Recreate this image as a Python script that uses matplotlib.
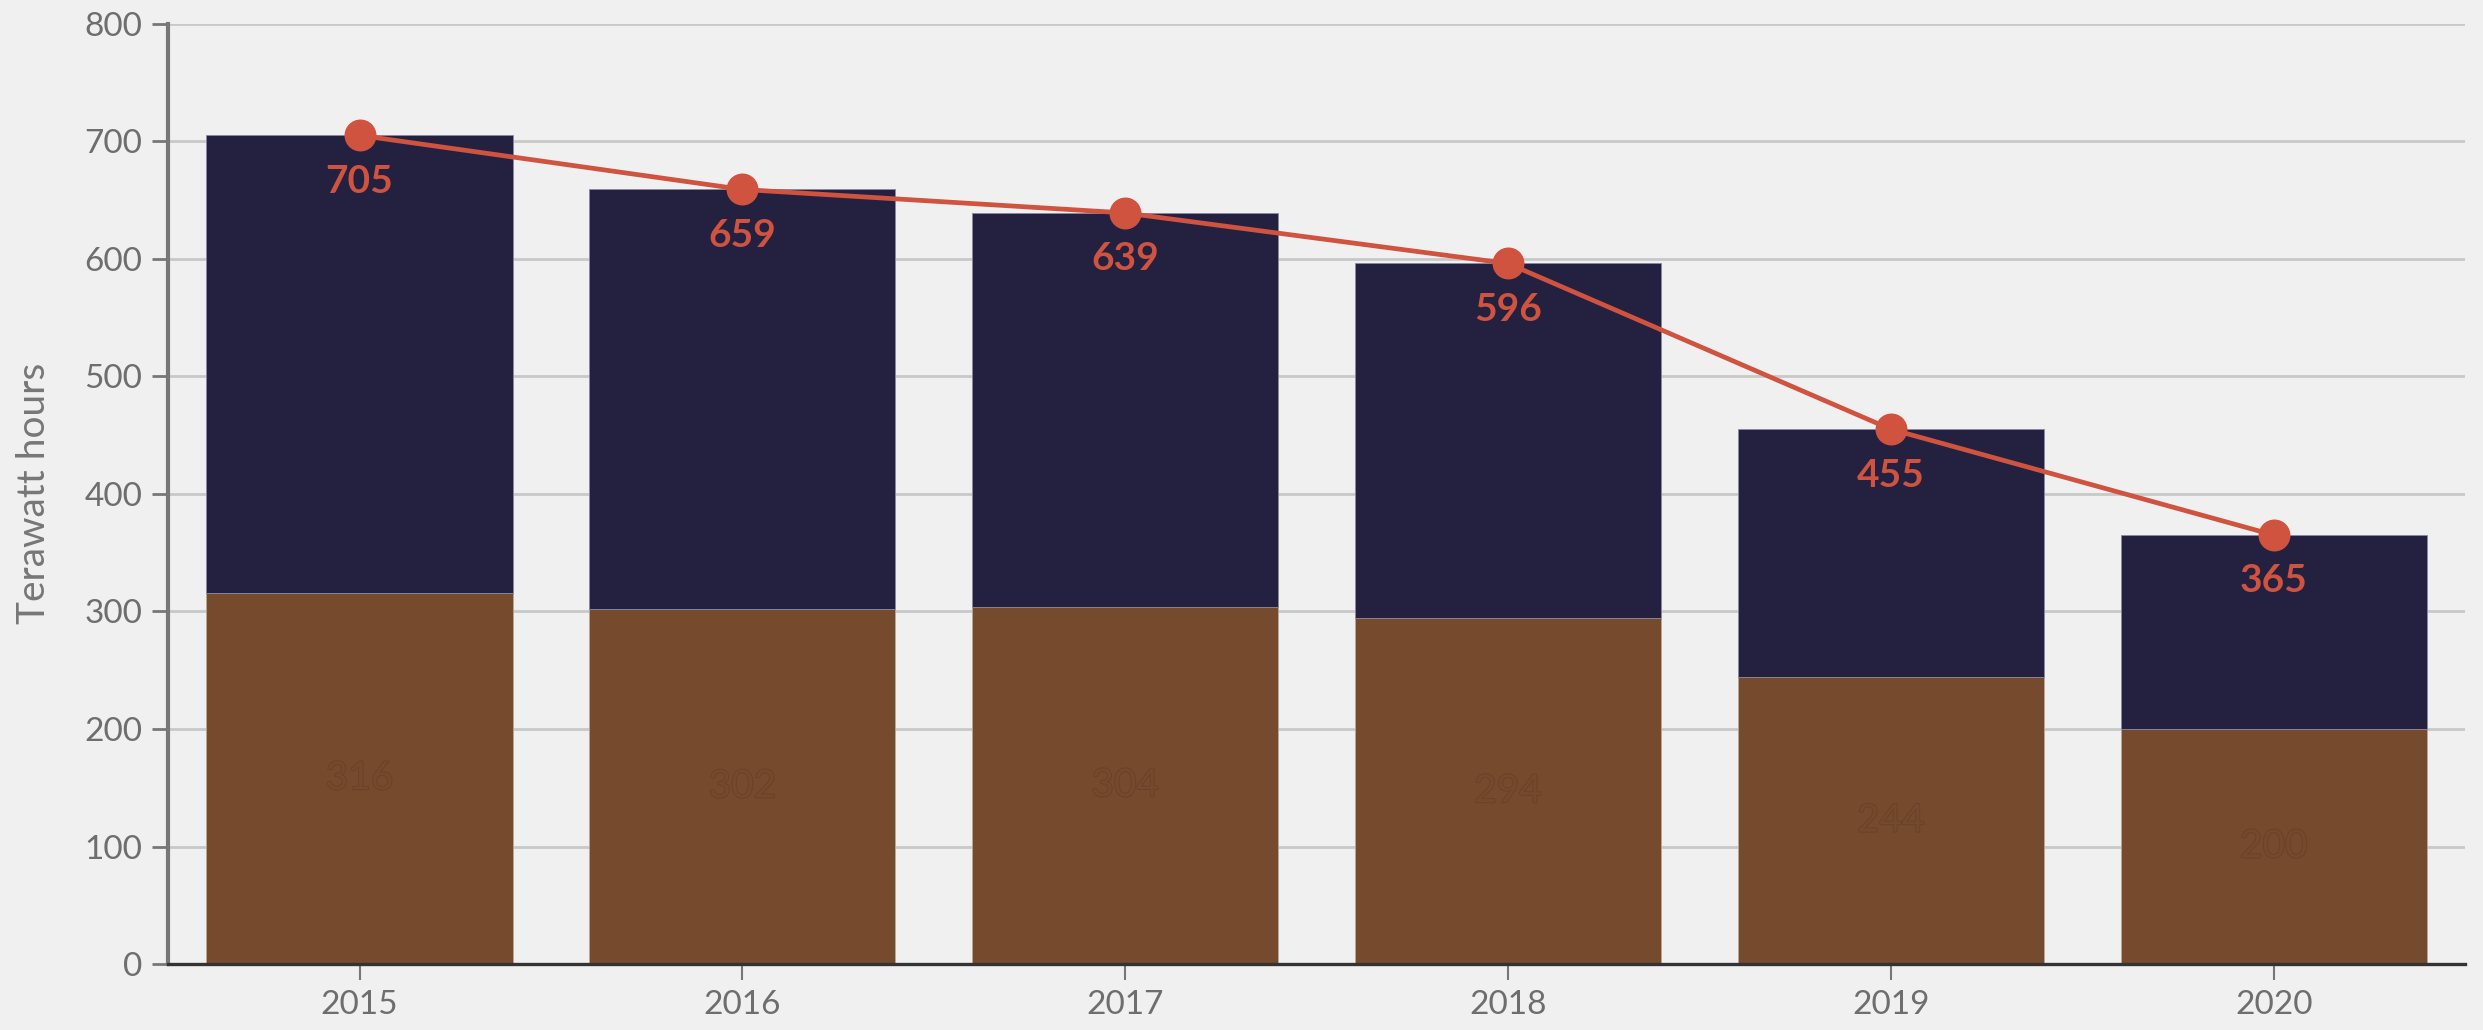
import matplotlib.pyplot as plt
import matplotlib.patheffects as pe
import numpy as np

years = ['2015', '2016', '2017', '2018', '2019', '2020']
brown = [316, 302, 304, 294, 244, 200]
total = [705, 659, 639, 596, 455, 365]
upper = [t - b for t, b in zip(total, brown)]

plt.rcParams['font.family'] = ['Lato', 'DejaVu Sans']

bg = '#f0f0f0'
fig = plt.figure(figsize=(24.83, 10.3), dpi=100, facecolor=bg)
ax = fig.add_axes([0.0677, 0.064, 0.9251, 0.913], facecolor=bg)

x = np.arange(len(years))
ax.bar(x, brown, width=0.8, color='#764a2c', edgecolor='#b8a89a', linewidth=0.6, zorder=2)
ax.bar(x, upper, bottom=brown, width=0.8, color='#23213f', edgecolor='#8a88a0', linewidth=0.6, zorder=2)

ax.plot(x, total, color='#cf533f', lw=3.4, marker='o', ms=22, zorder=4)

# faint labels inside the brown part
for xi, b in zip(x, brown):
    ax.text(xi, b / 2, str(b), ha='center', va='center', fontsize=28,
            color='#75492c', zorder=3,
            path_effects=[pe.withStroke(linewidth=1.2, foreground='#66412a')])
for xi, t in zip(x, total):
    ax.text(xi, t - 39, str(t), ha='center', va='center', fontsize=28,
            fontweight='bold', color='#cf533f', zorder=5)

ax.set_ylim(0, 800)
ax.set_xlim(-0.5, 5.5)
ax.set_yticks(range(0, 801, 100))
ax.set_xticks(x)
ax.set_xticklabels(years)
ax.grid(axis='y', color='#c8c8c8', lw=2, zorder=0)
ax.set_axisbelow(True)

for s in ['top', 'right']:
    ax.spines[s].set_visible(False)
ax.spines['left'].set_color('#777777')
ax.spines['left'].set_linewidth(3)
ax.spines['bottom'].set_color('#333333')
ax.spines['bottom'].set_linewidth(2.4)
ax.tick_params(axis='y', length=11.5, width=2, color='#777777', labelsize=24,
               labelcolor='#6e6e6e', pad=7)
ax.tick_params(axis='x', length=11.5, width=1.5, color='#777777', labelsize=24,
               labelcolor='#6e6e6e', pad=7)
fig.text(34 / 2483, 0.521, 'Terawatt hours', rotation=90,
         ha='center', va='center', fontsize=28, color='#777777')

fig.savefig('out.png', dpi=100, facecolor=bg)
